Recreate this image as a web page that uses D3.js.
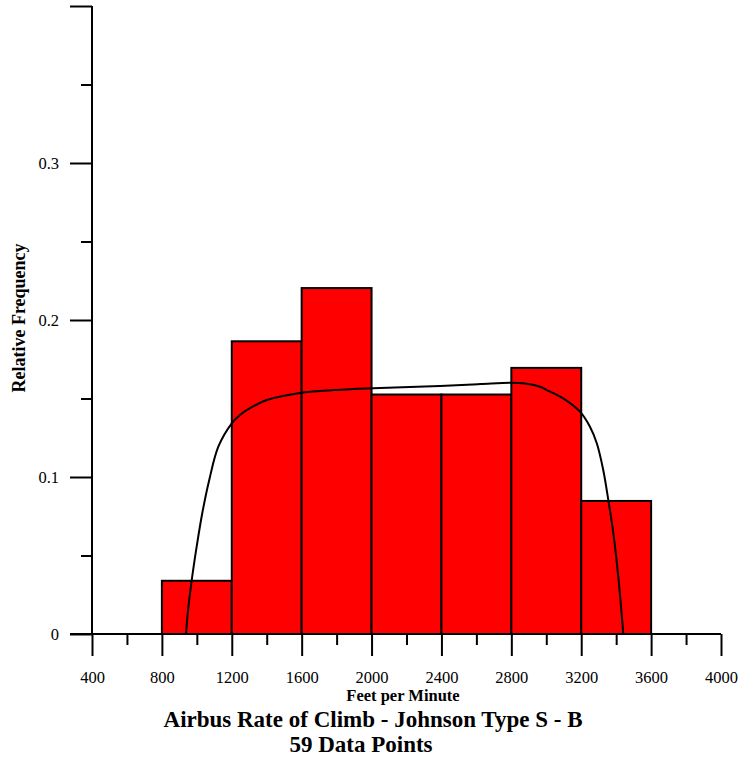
<!DOCTYPE html>
<html>
<head>
<meta charset="utf-8">
<script src="https://cdn.jsdelivr.net/npm/d3@7"></script>
<style>
  html, body { margin: 0; padding: 0; background: #fff; }
  svg { display: block; font-family: "Liberation Serif", "Times New Roman", serif; }
</style>
</head>
<body>
<svg id="chart" width="739" height="761"></svg>
<script>
// Histogram bins (ft/min) and relative frequencies out of 59 observations
const binStarts = [800, 1200, 1600, 2000, 2400, 2800, 3200];
const binWidth = 400;
const counts = [2, 11, 13, 9, 9, 10, 5];
const totalPoints = 59;

// Fitted Johnson SB density, scaled to relative frequency per bin
const curveX = [938, 948, 971, 999, 1031, 1071, 1123, 1200, 1247, 1304, 1400, 1600, 1877, 2008,
                2392, 2621, 2802, 2867, 2964, 3002, 3097, 3193, 3250, 3289, 3326, 3355, 3384,
                3412, 3441];
const curveY = [0, 0.0131, 0.0344, 0.0556, 0.0769, 0.0981, 0.1193, 0.1342, 0.1395, 0.1438,
                0.1490, 0.1537, 0.1559, 0.1565, 0.1580, 0.1592, 0.1601, 0.1597, 0.1575,
                0.1554, 0.1501, 0.1416, 0.1320, 0.1215, 0.1045, 0.0854, 0.0641, 0.0365, 0];

const xTicks = [400, 800, 1200, 1600, 2000, 2400, 2800, 3200, 3600, 4000];
const yTickLabels = ["0", "0.1", "0.2", "0.3"];
const yTickValues = [0, 0.1, 0.2, 0.3];

const svg = d3.select("#chart");
const x = d3.scaleLinear().domain([400, 4000]).range([92, 721]);
const y = d3.scaleLinear().domain([0, 0.4]).range([634, 6]);

// Bars
svg.append("g").selectAll("rect")
  .data(binStarts.map((s, i) => ({ s, v: counts[i] / totalPoints })))
  .join("rect")
  .attr("x", d => x(d.s))
  .attr("y", d => y(d.v))
  .attr("width", d => x(d.s + binWidth) - x(d.s))
  .attr("height", d => y(0) - y(d.v))
  .attr("fill", "#ff0000")
  .attr("stroke", "#000")
  .attr("stroke-width", 2);

// Fitted curve
const line = d3.line().x(d => x(d[0])).y(d => y(d[1])).curve(d3.curveCatmullRom.alpha(0.5));
svg.append("path")
  .datum(curveX.map((v, i) => [v, curveY[i]]))
  .attr("d", line)
  .attr("fill", "none")
  .attr("stroke", "#000")
  .attr("stroke-width", 2);

const labelStyle = (sel, size) => sel
  .style("font-family", "'Liberation Serif', 'Times New Roman', serif")
  .style("font-size", size + "px")
  .style("fill", "#000");

// X axis: major ticks every 400, minor every 200
const xAxis = svg.append("g").attr("transform", `translate(0,${y(0)})`);
xAxis.append("line").attr("x1", 70).attr("x2", x(4000)).attr("stroke", "#000").attr("stroke-width", 2);
xAxis.call(d3.axisBottom(x).tickValues(d3.range(600, 4000, 400)).tickSize(11).tickFormat(""))
  .call(g => g.select(".domain").remove());
const xMajor = svg.append("g").attr("transform", `translate(0,${y(0)})`)
  .call(d3.axisBottom(x).tickValues(xTicks).tickSize(22).tickPadding(15).tickFormat(d3.format("d")))
  .call(g => g.select(".domain").remove());
xMajor.selectAll(".tick text").call(labelStyle, 16.5);
svg.selectAll(".tick line").attr("stroke", "#000").attr("stroke-width", 2);

// Y axis: major ticks every 0.1, minor every 0.05
const yAxisG = svg.append("g").attr("transform", `translate(${x(400)},0)`);
yAxisG.append("line").attr("y1", y(0)).attr("y2", y(0.4)).attr("stroke", "#000").attr("stroke-width", 2);
yAxisG.append("g")
  .call(d3.axisLeft(y).tickValues([0.05, 0.15, 0.25, 0.35]).tickSize(11).tickFormat(""))
  .call(g => g.select(".domain").remove());
const yMajor = yAxisG.append("g")
  .call(d3.axisLeft(y).tickValues([0, 0.1, 0.2, 0.3, 0.4]).tickSize(22).tickPadding(11)
    .tickFormat(d => { const i = yTickValues.indexOf(d); return i >= 0 ? yTickLabels[i] : ""; }))
  .call(g => g.select(".domain").remove());
yMajor.selectAll(".tick text").call(labelStyle, 16.5);
yAxisG.selectAll(".tick line").attr("stroke", "#000").attr("stroke-width", 2);

// Axis titles and chart title
svg.append("text").attr("x", 403).attr("y", 701).attr("text-anchor", "middle")
  .attr("font-size", 16.5).attr("font-weight", "bold").text("Feet per Minute");
svg.append("text").attr("transform", `translate(25,318) rotate(-90)`).attr("text-anchor", "middle")
  .attr("font-size", 18).attr("font-weight", "bold").text("Relative Frequency");
svg.append("text").attr("x", 373).attr("y", 727).attr("text-anchor", "middle")
  .attr("font-size", 23).attr("font-weight", "bold").text("Airbus Rate of Climb - Johnson Type S - B");
svg.append("text").attr("x", 361).attr("y", 752).attr("text-anchor", "middle")
  .attr("font-size", 23).attr("font-weight", "bold").text(totalPoints + " Data Points");
</script>
</body>
</html>
